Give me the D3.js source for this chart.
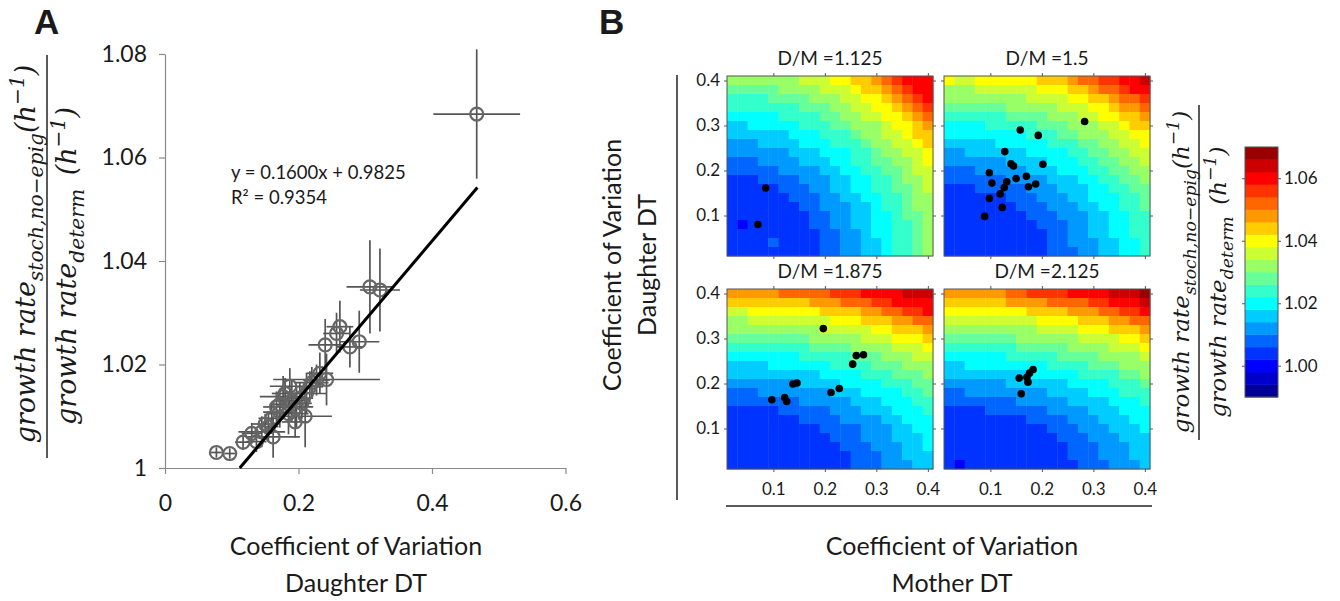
<!DOCTYPE html>
<html>
<head>
<meta charset="utf-8">
<script src="https://cdn.jsdelivr.net/npm/d3@7"></script>
<style>
body { margin: 0; background: #fff; }
text { font-family: Lato, "Open Sans", sans-serif; fill: #1a1a1a; }
.math { font-family: "DejaVu Serif", serif; font-style: italic; }
</style>
</head>
<body>
<svg id="chart" width="1340" height="601"></svg>
<script>
// ---- panel A: simulated vs deterministic growth rate ----
const cvDaughter = [0.077,0.097,0.117,0.130,0.137,0.145,0.150,0.155,0.160,0.162,0.167,0.172,0.172,0.177,0.180,0.185,0.187,0.190,0.195,0.197,0.202,0.205,0.210,0.212,0.217,0.220,0.227,0.232,0.240,0.242,0.257,0.262,0.277,0.291,0.307,0.322,0.467];
const growthRatio = [1.0030,1.0028,1.0050,1.0067,1.0051,1.0070,1.0085,1.0080,1.0096,1.0060,1.0118,1.0108,1.0123,1.0138,1.0144,1.0105,1.0158,1.0130,1.0089,1.0118,1.0135,1.0125,1.0100,1.0144,1.0157,1.0165,1.0170,1.0183,1.0238,1.0171,1.0260,1.0273,1.0234,1.0244,1.0350,1.0344,1.0684];
const cvErr = [0.008,0.008,0.012,0.015,0.015,0.035,0.02,0.015,0.02,0.04,0.02,0.025,0.015,0.035,0.02,0.03,0.03,0.02,0.02,0.025,0.02,0.015,0.04,0.03,0.02,0.025,0.02,0.02,0.025,0.08,0.02,0.02,0.02,0.03,0.035,0.03,0.065];
const ratioErr = [0.001,0.001,0.0015,0.002,0.002,0.003,0.002,0.003,0.003,0.004,0.003,0.003,0.003,0.004,0.003,0.004,0.0035,0.004,0.003,0.004,0.003,0.003,0.006,0.004,0.003,0.003,0.003,0.004,0.005,0.005,0.004,0.005,0.004,0.006,0.009,0.008,0.0125];
const fitSlope = 0.1600, fitIntercept = 0.9825, fitR2 = 0.9354;
// trend line ends as drawn in the figure
const fitLineX = [0.112, 0.468];
const fitLineY = [1.0, 1.0542];
const xTicksA = [0, 0.2, 0.4, 0.6];
const yTicksA = [1, 1.02, 1.04, 1.06, 1.08];

// ---- panel B: heat maps, rows top (daughter CV 0.40) to bottom (0.02), level 0..19 base 20 ----
const gridCV = [0.02,0.04,0.06,0.08,0.10,0.12,0.14,0.16,0.18,0.20,0.22,0.24,0.26,0.28,0.30,0.32,0.34,0.36,0.38,0.40];
const panelTitles = ["D/M =1.125", "D/M =1.5", "D/M =1.875", "D/M =2.125"];
const levelsDM1 = [
"aaaaaaabbbccddefghhh","99999aaaabbbcddefghh","88889999aaabbccdefgh","8888888999aabbccdefg",
"77777888899aabbccdef","667777788899aaabccde","6666667778889aabbcdd","55566667778889aabbcd",
"555555666777889aabbc","4445555666778899aabc","44444555566778899abb","33344445556677889aab",
"333334445566778899ab","333333444556677889aa","333333344555667889aa","3333333344556677899a",
"3233333344556677889a","3333333334455677889a","3333433334455667889a","3333333334455667889a"];
const levelsDM2 = [
"cbbccccccdddeffgghhi","aaabbbbbbcccddeffghh","aaaaaaaabbbbccddeffg","999999aaaaabbbccdeef",
"8888889999aaabbccdde","777788888999aaabbcdd","7777777788899aaabbcc","666667777788899aabbc",
"5566666677778899aabb","55555566667778899aab","444555556667778899aa","4444445555666778899a",
"33344444555666778899","33333344455566777889","33333334445556677889","33333333444555667788",
"33333333344455667788","33333333334455667788","33333333334455566778","33333333334445566778"];
const levelsDM3 = [
"eeeeefffffggghhhhiii","ddddddddeeefffgghhhh","bbcccccccddddeeffggh","aabbbbbbbbcccdddeeff",
"aaaaaaaaabbbbbccddde","99999999aaaaabbbcccd","888888889999aaaabbbc","777777788888999aaabb",
"66667777778888999aaa","6666666667777888999a","55555556666777788899","44455555556667777889",
"44444445555566677788","33333444445556667778","33333334444555566777","33333333344445556677",
"33333333334445556667","33333333333444555667","33333333333344455666","33333333333344455566"];
const levelsDM4 = [
"eeeeeeffgggghhhhiiij","ddddddeeeeffffgghhhi","ccccccccddddeeeffggh","bbbbbbbbbccccdddeeff",
"aaaaaaaaabbbbcccddde","9999999aaaaaabbbbccd","888888899999aaaabbbc","777777888889999aaaab",
"66777777778888999aaa","6666666677777888899a","55555566666677778889","44555555556666777888",
"44444445555566667778","33334444445555666777","33333333444455566677","33333333334445556667",
"33333333333444555666","33333333333344455566","33333333333344455566","32333333333334445556"];
const motherDM1 = [0.085, 0.070];
const daughterDM1 = [0.161, 0.080];
const motherDM2 = [0.283,0.158,0.193,0.128,0.140,0.145,0.202,0.098,0.103,0.132,0.150,0.170,0.127,0.174,0.188,0.119,0.098,0.123,0.089];
const daughterDM2 = [0.309,0.290,0.278,0.242,0.215,0.210,0.214,0.195,0.172,0.175,0.182,0.187,0.162,0.164,0.170,0.148,0.138,0.118,0.098];
const motherDM3 = [0.197,0.097,0.122,0.126,0.138,0.146,0.212,0.228,0.254,0.261,0.275];
const daughterDM3 = [0.322,0.164,0.169,0.160,0.199,0.201,0.180,0.189,0.243,0.262,0.264];
const motherDM4 = [0.156,0.173,0.171,0.176,0.183,0.160];
const daughterDM4 = [0.212,0.203,0.214,0.223,0.231,0.177];
const cvTicksB = [0.1, 0.2, 0.3, 0.4];
const colorTicks = [1.00, 1.02, 1.04, 1.06];
const colorDomain = [0.99, 1.07];

const svg = d3.select("#chart");

// jet colormap, 20 steps
function jet(t) {
    const c = v => Math.max(0, Math.min(1, v));
    return d3.rgb(255 * c(1.5 - Math.abs(4 * t - 3)), 255 * c(1.5 - Math.abs(4 * t - 2)), 255 * c(1.5 - Math.abs(4 * t - 1))).formatHex();
}
const jetColors = d3.range(20).map(i => jet((i + 0.5) / 20));
const colorScale = d3.scaleQuantize().domain(colorDomain).range(jetColors);
const levelValue = ch => colorDomain[0] + 0.004 * (parseInt(ch, 20) + 0.5);

// italic math label, rotated; parts: [text, 0 normal | 1 sub | 2 sup]
function mathLabel(cx, cy, size, parts) {
    const t = svg.append("text").attr("class", "math").attr("font-size", size)
        .attr("text-anchor", "middle")
        .attr("transform", `translate(${cx},${cy}) rotate(-90)`)
        .attr("y", size * 0.3);
    let shift = 0;
    parts.forEach(([s, kind]) => {
        const target = kind === 1 ? size * 0.3 : kind === 2 ? -size * 0.42 : 0;
        t.append("tspan").attr("dy", target - shift)
            .attr("font-size", kind ? size * 0.75 : size).text(s);
        shift = target;
    });
}
const numerParts = [["growth rate", 0], ["stoch,no\u2212epig", 1], ["(h", 0], ["\u22121", 2], [")", 0]];
const denomParts = [["growth rate", 0], ["determ", 1], ["\u2002(h", 0], ["\u22121", 2], [")", 0]];

// ---------- panel A ----------
svg.append("text").attr("x", 34).attr("y", 34).style("font-family", "'Liberation Sans', Arial")
    .attr("font-weight", "bold").attr("font-size", 35).text("A");

const xA = d3.scaleLinear().domain([0, 0.6]).range([165, 565.5]);
const yA = d3.scaleLinear().domain([1, 1.08]).range([468, 54]);

const axA_y = svg.append("g").attr("transform", "translate(165,0)")
    .call(d3.axisLeft(yA).tickValues(yTicksA).tickSize(6).tickSizeOuter(0).tickPadding(12)
        .tickFormat(d => d === 1 ? "1" : d3.format(".2f")(d)));
const axA_x = svg.append("g").attr("transform", "translate(0,468)")
    .call(d3.axisBottom(xA).tickValues(xTicksA).tickSize(6).tickSizeOuter(0).tickPadding(21)
        .tickFormat(d => d === 0 ? "0" : d3.format(".1f")(d)));
[axA_x, axA_y].forEach(g => {
    g.selectAll("path, line").attr("stroke", "#8a8a8a").attr("stroke-width", 1.2);
    g.selectAll("text").attr("font-size", 23).style("font-family", "Lato, sans-serif").attr("fill", "#222");
});

const ptsA = cvDaughter.map((x, i) => ({x: x, y: growthRatio[i], ex: cvErr[i], ey: ratioErr[i]}));
const errG = svg.append("g").attr("stroke", "#555").attr("stroke-width", 1.7);
errG.selectAll(".eh").data(ptsA).enter().append("line")
    .attr("x1", d => xA(d.x - d.ex)).attr("x2", d => xA(d.x + d.ex))
    .attr("y1", d => yA(d.y)).attr("y2", d => yA(d.y));
errG.selectAll(".ev").data(ptsA).enter().append("line")
    .attr("x1", d => xA(d.x)).attr("x2", d => xA(d.x))
    .attr("y1", d => yA(d.y - d.ey)).attr("y2", d => yA(d.y + d.ey));
svg.append("g").selectAll("circle").data(ptsA).enter().append("circle")
    .attr("cx", d => xA(d.x)).attr("cy", d => yA(d.y)).attr("r", 6.5)
    .attr("fill", "none").attr("stroke", "#666").attr("stroke-width", 2.2);

svg.append("line")
    .attr("x1", xA(fitLineX[0])).attr("y1", yA(fitLineY[0]))
    .attr("x2", xA(fitLineX[1])).attr("y2", yA(fitLineY[1]))
    .attr("stroke", "#000").attr("stroke-width", 3);

svg.append("text").attr("x", 231).attr("y", 179).attr("font-size", 18.5)
    .text(`y = ${fitSlope.toFixed(4)}x + ${fitIntercept.toFixed(4)}`);
svg.append("text").attr("x", 231).attr("y", 204).attr("font-size", 18.5)
    .text(`R² = ${fitR2.toFixed(4)}`);

svg.append("text").attr("x", 356).attr("y", 555).attr("text-anchor", "middle").attr("font-size", 25)
    .text("Coefficient of Variation");
svg.append("text").attr("x", 356).attr("y", 592).attr("text-anchor", "middle").attr("font-size", 25)
    .text("Daughter DT");

mathLabel(27, 254, 27, numerParts);
svg.append("line").attr("x1", 47).attr("x2", 47).attr("y1", 55).attr("y2", 458)
    .attr("stroke", "#222").attr("stroke-width", 1.5);
mathLabel(68, 266, 27, denomParts);

// ---------- panel B ----------
svg.append("text").attr("x", 599).attr("y", 34).style("font-family", "'Liberation Sans', Arial")
    .attr("font-weight", "bold").attr("font-size", 35).text("B");

const panels = [
    {levels: levelsDM1, mother: motherDM1, daughter: daughterDM1, x0: 727, y0: 76, left: true, bottom: false},
    {levels: levelsDM2, mother: motherDM2, daughter: daughterDM2, x0: 944, y0: 76, left: false, bottom: false},
    {levels: levelsDM3, mother: motherDM3, daughter: daughterDM3, x0: 727, y0: 289, left: true, bottom: true},
    {levels: levelsDM4, mother: motherDM4, daughter: daughterDM4, x0: 944, y0: 289, left: false, bottom: true}
];
const pw = 206, ph = 180;

panels.forEach((p, k) => {
    const xS = d3.scaleLinear().domain([0.01, 0.41]).range([p.x0, p.x0 + pw]);
    const yS = d3.scaleLinear().domain([0.01, 0.41]).range([p.y0 + ph, p.y0]);
    const cells = [];
    p.levels.forEach((row, r) => {
        row.split("").forEach((ch, c) => {
            cells.push({m: gridCV[c], d: gridCV[19 - r], v: levelValue(ch)});
        });
    });
    const g = svg.append("g");
    g.selectAll("rect").data(cells).enter().append("rect")
        .attr("x", d => xS(d.m - 0.01)).attr("y", d => yS(d.d + 0.01))
        .attr("width", d => xS(d.m + 0.01) - xS(d.m - 0.01) + 0.4)
        .attr("height", d => yS(d.d - 0.01) - yS(d.d + 0.01) + 0.4)
        .attr("fill", d => colorScale(d.v));
    g.append("rect").attr("x", p.x0).attr("y", p.y0).attr("width", pw).attr("height", ph)
        .attr("fill", "none").attr("stroke", "#555").attr("stroke-width", 1);

    const axes = [
        svg.append("g").attr("transform", `translate(0,${p.y0 + ph})`)
            .call(d3.axisBottom(xS).tickValues(cvTicksB).tickSize(3).tickSizeOuter(0).tickPadding(11)
                .tickFormat(p.bottom ? d3.format(".1f") : "")),
        svg.append("g").attr("transform", `translate(0,${p.y0})`)
            .call(d3.axisTop(xS).tickValues(cvTicksB).tickSize(3).tickSizeOuter(0).tickFormat("")),
        svg.append("g").attr("transform", `translate(${p.x0},0)`)
            .call(d3.axisLeft(yS).tickValues(cvTicksB).tickSize(3).tickSizeOuter(0).tickPadding(4)
                .tickFormat(p.left ? d3.format(".1f") : "")),
        svg.append("g").attr("transform", `translate(${p.x0 + pw},0)`)
            .call(d3.axisRight(yS).tickValues(cvTicksB).tickSize(3).tickSizeOuter(0).tickFormat(""))
    ];
    axes.forEach(a => {
        a.select(".domain").remove();
        a.selectAll("line").attr("stroke", "#555");
        a.selectAll("text").attr("font-size", 17).style("font-family", "Lato, sans-serif").attr("fill", "#222");
    });

    svg.append("g").selectAll("circle").data(p.mother.map((m, i) => ({m: m, d: p.daughter[i]})))
        .enter().append("circle")
        .attr("cx", d => xS(d.m)).attr("cy", d => yS(d.d)).attr("r", 3.8).attr("fill", "#000");

    svg.append("text").attr("x", p.x0 + pw / 2).attr("y", p.y0 - 11)
        .attr("text-anchor", "middle").attr("font-size", 19).text(panelTitles[k]);
});

// shared axis titles
svg.append("line").attr("x1", 677).attr("x2", 677).attr("y1", 75).attr("y2", 500)
    .attr("stroke", "#222").attr("stroke-width", 1.5);
svg.append("text").attr("transform", "translate(621,265) rotate(-90)").attr("text-anchor", "middle")
    .attr("font-size", 25).text("Coefficient of Variation");
svg.append("text").attr("transform", "translate(656,265) rotate(-90)").attr("text-anchor", "middle")
    .attr("font-size", 25).text("Daughter DT");
svg.append("line").attr("x1", 726).attr("x2", 1152).attr("y1", 506).attr("y2", 506)
    .attr("stroke", "#222").attr("stroke-width", 1.5);
svg.append("text").attr("x", 952).attr("y", 555).attr("text-anchor", "middle").attr("font-size", 25)
    .text("Coefficient of Variation");
svg.append("text").attr("x", 952).attr("y", 592).attr("text-anchor", "middle").attr("font-size", 25)
    .text("Mother DT");

// colour bar
const cbX = 1245, cbW = 33;
const cbY = d3.scaleLinear().domain(colorDomain).range([397, 147]);
const bands = jetColors.map((c, i) => ({lo: colorDomain[0] + 0.004 * i, hi: colorDomain[0] + 0.004 * (i + 1)}));
svg.append("g").selectAll("rect").data(bands).enter().append("rect")
    .attr("x", cbX).attr("width", cbW)
    .attr("y", d => cbY(d.hi)).attr("height", d => cbY(d.lo) - cbY(d.hi) + 0.4)
    .attr("fill", d => colorScale((d.lo + d.hi) / 2));
svg.append("rect").attr("x", cbX).attr("y", cbY(colorDomain[1])).attr("width", cbW)
    .attr("height", cbY(colorDomain[0]) - cbY(colorDomain[1]))
    .attr("fill", "none").attr("stroke", "#555");
const cbAxis = svg.append("g").attr("transform", `translate(${cbX + cbW},0)`)
    .call(d3.axisRight(cbY).tickValues(colorTicks).tickSize(3).tickSizeOuter(0).tickPadding(3)
        .tickFormat(d3.format(".2f")));
cbAxis.select(".domain").remove();
cbAxis.selectAll("line").attr("stroke", "#555");
cbAxis.selectAll("text").attr("font-size", 17).style("font-family", "Lato, sans-serif").attr("fill", "#222");
const cbAxisL = svg.append("g").attr("transform", `translate(${cbX},0)`)
    .call(d3.axisLeft(cbY).tickValues(colorTicks).tickSize(3).tickSizeOuter(0).tickFormat(""));
cbAxisL.select(".domain").remove();
cbAxisL.selectAll("line").attr("stroke", "#555");

mathLabel(1182, 272, 23, numerParts);
svg.append("line").attr("x1", 1199).attr("x2", 1199).attr("y1", 105).attr("y2", 440)
    .attr("stroke", "#222").attr("stroke-width", 1.5);
mathLabel(1219, 282, 23, denomParts);
</script>
</body>
</html>
